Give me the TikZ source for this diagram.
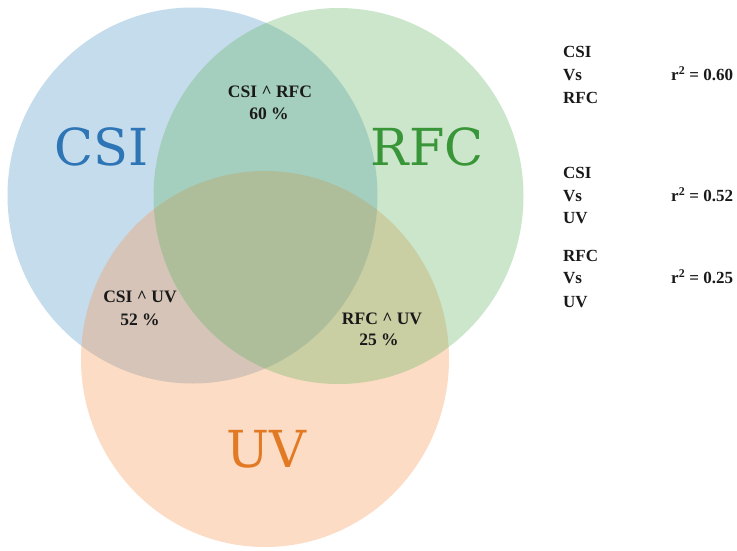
\documentclass[tikz,border=0pt]{standalone}
\usepackage{fontspec}
\setmainfont{Liberation Serif}
\newfontfamily\bigfont{DejaVu Serif}
\definecolor{csiC}{RGB}{79,148,197}
\definecolor{uvC}{RGB}{245,148,76}
\definecolor{rfcC}{RGB}{97,179,97}
\definecolor{csiT}{RGB}{46,117,182}
\definecolor{rfcT}{RGB}{56,150,56}
\definecolor{uvT}{RGB}{226,122,36}
\definecolor{txt}{RGB}{25,25,25}
\tikzset{
  setfill/.style={fill=#1, fill opacity=0.33, draw=none},
  biglabel/.style={anchor=base, inner sep=0pt, font=\bigfont\fontsize{51}{51}\selectfont, text=#1},
  small/.style={anchor=base, inner sep=0pt, font=\bfseries\fontsize{17.5}{17.5}\selectfont, text=txt},
  side/.style={anchor=base west, inner sep=0pt, font=\bfseries\fontsize{17}{17}\selectfont, text=txt}
}
\begin{document}
\begin{tikzpicture}[x=1pt,y=-1pt]
\useasboundingbox (0,0) rectangle (737,550);
% sets (drawing order: CSI, UV, RFC)
\fill[setfill=csiC] (192.5,195.5) ellipse [x radius=185, y radius=188];
\fill[setfill=uvC] (265,359) ellipse [x radius=184, y radius=188];
\fill[setfill=rfcC] (338.5,196) ellipse [x radius=185, y radius=188];
% big labels
\node[biglabel=csiT] (lcsi) at (102,165) {CSI};
\node[biglabel=rfcT] (lrfc) at (427,165) {RFC};
\node[biglabel=uvT] (luv) at (266,467) {UV};
% intersection labels
\node[small] (icr) at (270,97) {CSI \^{} RFC};
\node[small] (icrp) at (269,119) {60 \%};
\node[small] (icu) at (140,302) {CSI \^{} UV};
\node[small] (icup) at (140,325) {52 \%};
\node[small] (iru) at (382,324) {RFC \^{} UV};
\node[small] (irup) at (379,345) {25 \%};
% side list
\node[side] (a1) at (563,57.5) {CSI};
\node[side] (a2) at (563,80.5) {Vs};
\node[side] (a3) at (563,103.5) {RFC};
\node[side] (ar) at (671,80.5) {r\textsuperscript{2} = 0.60};
\node[side] (b1) at (563,178.5) {CSI};
\node[side] (b2) at (563,201.5) {Vs};
\node[side] (b3) at (563,223.5) {UV};
\node[side] (br) at (671,201.5) {r\textsuperscript{2} = 0.52};
\node[side] (c1) at (563,261.5) {RFC};
\node[side] (c2) at (563,283.5) {Vs};
\node[side] (c3) at (563,307.5) {UV};
\node[side] (cr) at (671,283.5) {r\textsuperscript{2} = 0.25};
\end{tikzpicture}
\end{document}
